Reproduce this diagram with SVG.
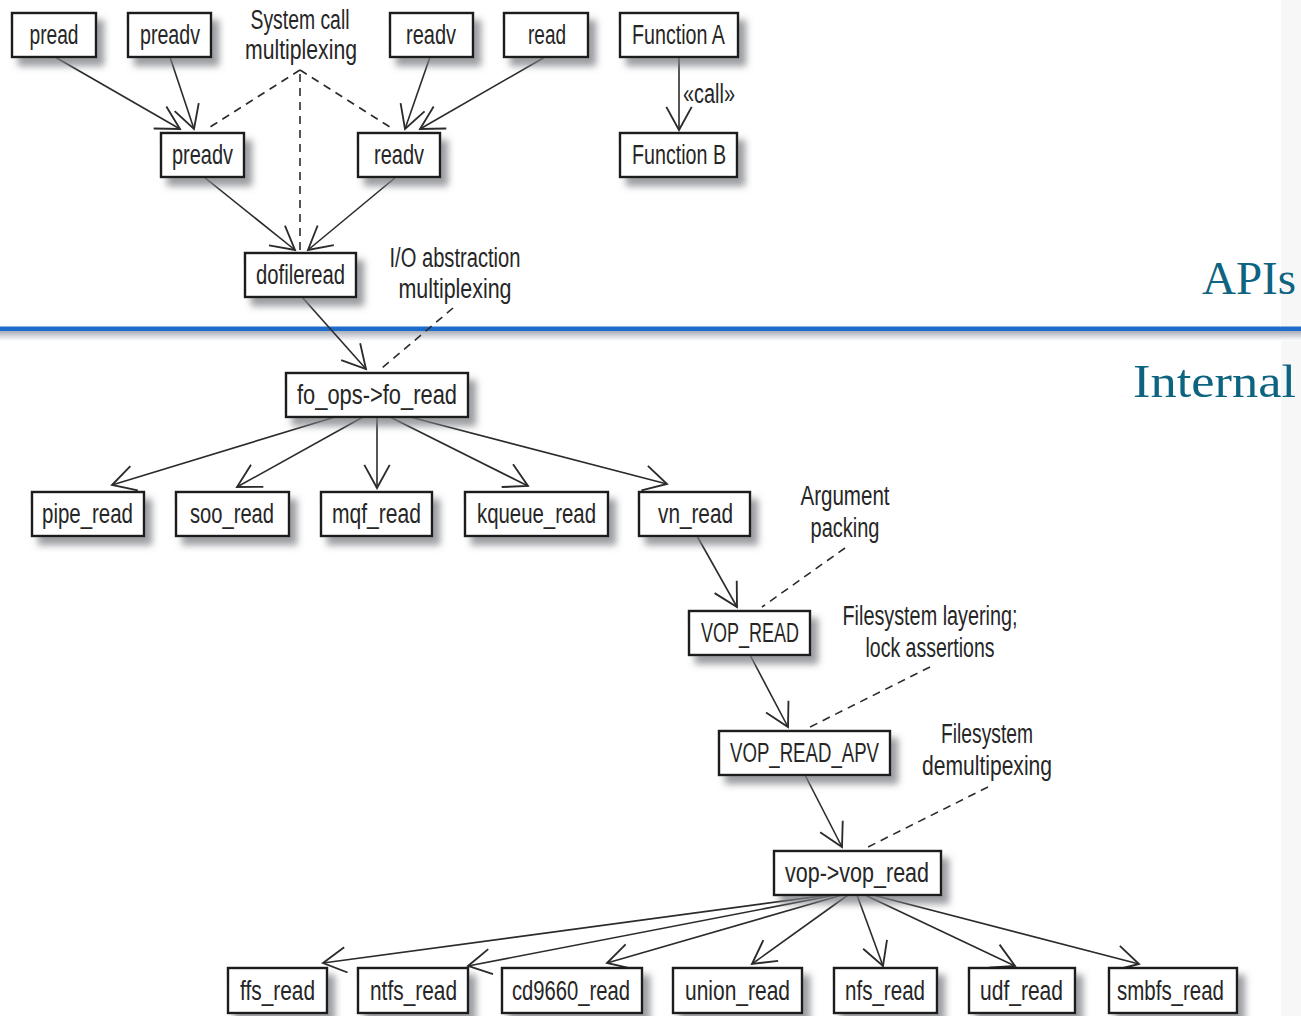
<svg xmlns="http://www.w3.org/2000/svg" width="1301" height="1016" viewBox="0 0 1301 1016">
  <defs>
    <filter id="shadow" x="-10%" y="-20%" width="130%" height="160%">
      <feGaussianBlur in="SourceAlpha" stdDeviation="3.8"/>
      <feOffset dx="7" dy="8" result="blur"/>
      <feFlood flood-color="#7a7d82" flood-opacity="0.75"/>
      <feComposite in2="blur" operator="in"/>
      <feMerge>
        <feMergeNode/>
        <feMergeNode in="SourceGraphic"/>
      </feMerge>
    </filter>
    <linearGradient id="sepShade" x1="0" y1="0" x2="0" y2="1">
      <stop offset="0" stop-color="#a9afb8"/>
      <stop offset="1" stop-color="#ffffff"/>
    </linearGradient>
    <marker id="open" markerUnits="userSpaceOnUse" markerWidth="30" markerHeight="30" viewBox="-22 -13 24 26" refX="0" refY="0" orient="auto">
      <path d="M-20,-11 L0,0 L-20,11" fill="none" stroke="#2b2b2b" stroke-width="1.6"/>
    </marker>
  </defs>
  <style>
    .box { fill: #ffffff; stroke: #1c1c1c; stroke-width: 2.4; }
    .node text, .note { font-family: "Liberation Sans", Arial, sans-serif; font-size: 27px; fill: #262626; text-anchor: middle; }
    .edge { fill: none; stroke: #2b2b2b; stroke-width: 1.6; marker-end: url(#open); }
    .dash { fill: none; stroke: #2b2b2b; stroke-width: 1.6; stroke-dasharray: 8 6; }
    .layer { font-family: "Liberation Serif", "DejaVu Serif", serif; font-size: 47px; fill: #0e6480; text-anchor: end; }
  </style>

  <rect x="0" y="0" width="1301" height="1016" fill="#ffffff"/>
  <rect x="1281" y="0" width="20" height="1016" fill="#f7f7f7"/>

  <!-- layer separator -->
  <rect x="0" y="331" width="1301" height="10" fill="url(#sepShade)"/>
  <rect x="0" y="326.5" width="1301" height="4.5" fill="#1d6ccb"/>
  <text class="layer" x="1296" y="294">APIs</text>
  <text class="layer" x="1296" y="397" textLength="163" lengthAdjust="spacingAndGlyphs">Internal</text>

  <!-- annotations -->
  <g>
    <text class="note" x="300" y="29" textLength="99" lengthAdjust="spacingAndGlyphs">System call</text>
    <text class="note" x="301" y="59" textLength="112" lengthAdjust="spacingAndGlyphs">multiplexing</text>
    <text class="note" x="709" y="103" textLength="52" lengthAdjust="spacingAndGlyphs">«call»</text>
    <text class="note" x="455" y="267" textLength="131" lengthAdjust="spacingAndGlyphs">I/O abstraction</text>
    <text class="note" x="455" y="298" textLength="113" lengthAdjust="spacingAndGlyphs">multiplexing</text>
    <text class="note" x="845" y="505" textLength="89" lengthAdjust="spacingAndGlyphs">Argument</text>
    <text class="note" x="845" y="537" textLength="69" lengthAdjust="spacingAndGlyphs">packing</text>
    <text class="note" x="930" y="625" textLength="175" lengthAdjust="spacingAndGlyphs">Filesystem layering;</text>
    <text class="note" x="930" y="657" textLength="129" lengthAdjust="spacingAndGlyphs">lock assertions</text>
    <text class="note" x="987" y="743" textLength="92" lengthAdjust="spacingAndGlyphs">Filesystem</text>
    <text class="note" x="987" y="775" textLength="130" lengthAdjust="spacingAndGlyphs">demultipexing</text>
  </g>

  <!-- connectors -->
  <g id="connectors">
    <path class="dash" d="M300,70 L207,129"/>
    <path class="dash" d="M300,70 L393,129"/>
    <path class="dash" d="M300,74 L300,250"/>
    <path class="dash" d="M453,308 L382,368"/>
    <path class="dash" d="M845,548 L762,607"/>
    <path class="dash" d="M930,667 L808,728"/>
    <path class="dash" d="M988,787 L866,848"/>

    <path class="edge" d="M55,57 L180,129"/>
    <path class="edge" d="M170,57 L194,129"/>
    <path class="edge" d="M430,57 L405,129"/>
    <path class="edge" d="M545,57 L420,129"/>
    <path class="edge" d="M679,57 L679,130"/>
    <path class="edge" d="M204,177 L295,250"/>
    <path class="edge" d="M396,177 L308,250"/>
    <path class="edge" d="M302,297 L366,369"/>

    <path class="edge" d="M335,417 L112,485"/>
    <path class="edge" d="M363,417 L237,487"/>
    <path class="edge" d="M377,417 L377,488"/>
    <path class="edge" d="M390,417 L528,486"/>
    <path class="edge" d="M410,417 L667,484"/>

    <path class="edge" d="M697,536 L737,607"/>
    <path class="edge" d="M750,655 L788,727"/>
    <path class="edge" d="M805,775 L842,847"/>

    <path class="edge" d="M828,895 L323,963"/>
    <path class="edge" d="M835,895 L468,966"/>
    <path class="edge" d="M842,895 L607,963"/>
    <path class="edge" d="M848,895 L752,964"/>
    <path class="edge" d="M857,895 L883,966"/>
    <path class="edge" d="M865,895 L1015,966"/>
    <path class="edge" d="M873,895 L1139,964"/>
  </g>

  <!-- nodes -->
  <g id="pread" class="node"><rect class="box" x="12" y="13" width="84" height="44" filter="url(#shadow)"/><text x="54" y="44" textLength="49" lengthAdjust="spacingAndGlyphs">pread</text></g>
  <g id="preadv-api" class="node"><rect class="box" x="128" y="13" width="83" height="44" filter="url(#shadow)"/><text x="170" y="44" textLength="60" lengthAdjust="spacingAndGlyphs">preadv</text></g>
  <g id="readv-api" class="node"><rect class="box" x="390" y="13" width="83" height="44" filter="url(#shadow)"/><text x="431" y="44" textLength="50" lengthAdjust="spacingAndGlyphs">readv</text></g>
  <g id="read" class="node"><rect class="box" x="504" y="13" width="84" height="44" filter="url(#shadow)"/><text x="547" y="44" textLength="38" lengthAdjust="spacingAndGlyphs">read</text></g>
  <g id="function-a" class="node"><rect class="box" x="620" y="13" width="118" height="44" filter="url(#shadow)"/><text x="678.5" y="44" textLength="93" lengthAdjust="spacingAndGlyphs">Function A</text></g>
  <g id="preadv" class="node"><rect class="box" x="161" y="133" width="83" height="44" filter="url(#shadow)"/><text x="202.5" y="164" textLength="61" lengthAdjust="spacingAndGlyphs">preadv</text></g>
  <g id="readv" class="node"><rect class="box" x="358" y="133" width="82" height="44" filter="url(#shadow)"/><text x="399" y="164" textLength="50" lengthAdjust="spacingAndGlyphs">readv</text></g>
  <g id="function-b" class="node"><rect class="box" x="620" y="133" width="117" height="44" filter="url(#shadow)"/><text x="679" y="164" textLength="94" lengthAdjust="spacingAndGlyphs">Function B</text></g>
  <g id="dofileread" class="node"><rect class="box" x="245" y="253" width="111" height="44" filter="url(#shadow)"/><text x="300.5" y="284" textLength="89" lengthAdjust="spacingAndGlyphs">dofileread</text></g>
  <g id="fo-read" class="node"><rect class="box" x="286" y="373" width="182" height="44" filter="url(#shadow)"/><text x="377" y="404" textLength="160" lengthAdjust="spacingAndGlyphs">fo_ops-&gt;fo_read</text></g>

  <g id="pipe-read" class="node"><rect class="box" x="32" y="492" width="112" height="44" filter="url(#shadow)"/><text x="87.5" y="523" textLength="91" lengthAdjust="spacingAndGlyphs">pipe_read</text></g>
  <g id="soo-read" class="node"><rect class="box" x="176" y="492" width="113" height="44" filter="url(#shadow)"/><text x="232" y="523" textLength="84" lengthAdjust="spacingAndGlyphs">soo_read</text></g>
  <g id="mqf-read" class="node"><rect class="box" x="321" y="492" width="111" height="44" filter="url(#shadow)"/><text x="376.5" y="523" textLength="89" lengthAdjust="spacingAndGlyphs">mqf_read</text></g>
  <g id="kqueue-read" class="node"><rect class="box" x="465" y="492" width="143" height="44" filter="url(#shadow)"/><text x="536.5" y="523" textLength="119" lengthAdjust="spacingAndGlyphs">kqueue_read</text></g>
  <g id="vn-read" class="node"><rect class="box" x="639" y="492" width="111" height="44" filter="url(#shadow)"/><text x="695.5" y="523" textLength="75" lengthAdjust="spacingAndGlyphs">vn_read</text></g>

  <g id="vop-read-macro" class="node"><rect class="box" x="689" y="611" width="121" height="44" filter="url(#shadow)"/><text x="750" y="642" textLength="98" lengthAdjust="spacingAndGlyphs">VOP_READ</text></g>
  <g id="vop-read-apv" class="node"><rect class="box" x="719" y="731" width="171" height="44" filter="url(#shadow)"/><text x="804.5" y="762" textLength="149" lengthAdjust="spacingAndGlyphs">VOP_READ_APV</text></g>
  <g id="vop-read" class="node"><rect class="box" x="774" y="851" width="167" height="44" filter="url(#shadow)"/><text x="857" y="882" textLength="144" lengthAdjust="spacingAndGlyphs">vop-&gt;vop_read</text></g>

  <g id="ffs-read" class="node"><rect class="box" x="228" y="968" width="99" height="45" filter="url(#shadow)"/><text x="277.5" y="1000" textLength="75" lengthAdjust="spacingAndGlyphs">ffs_read</text></g>
  <g id="ntfs-read" class="node"><rect class="box" x="358" y="968" width="110" height="45" filter="url(#shadow)"/><text x="413.5" y="1000" textLength="87" lengthAdjust="spacingAndGlyphs">ntfs_read</text></g>
  <g id="cd9660-read" class="node"><rect class="box" x="502" y="968" width="140" height="45" filter="url(#shadow)"/><text x="571" y="1000" textLength="118" lengthAdjust="spacingAndGlyphs">cd9660_read</text></g>
  <g id="union-read" class="node"><rect class="box" x="673" y="968" width="129" height="45" filter="url(#shadow)"/><text x="737.5" y="1000" textLength="105" lengthAdjust="spacingAndGlyphs">union_read</text></g>
  <g id="nfs-read" class="node"><rect class="box" x="834" y="968" width="103" height="45" filter="url(#shadow)"/><text x="885" y="1000" textLength="80" lengthAdjust="spacingAndGlyphs">nfs_read</text></g>
  <g id="udf-read" class="node"><rect class="box" x="969" y="968" width="106" height="45" filter="url(#shadow)"/><text x="1021.5" y="1000" textLength="83" lengthAdjust="spacingAndGlyphs">udf_read</text></g>
  <g id="smbfs-read" class="node"><rect class="box" x="1109" y="968" width="128" height="45" filter="url(#shadow)"/><text x="1170.5" y="1000" textLength="107" lengthAdjust="spacingAndGlyphs">smbfs_read</text></g>
</svg>
